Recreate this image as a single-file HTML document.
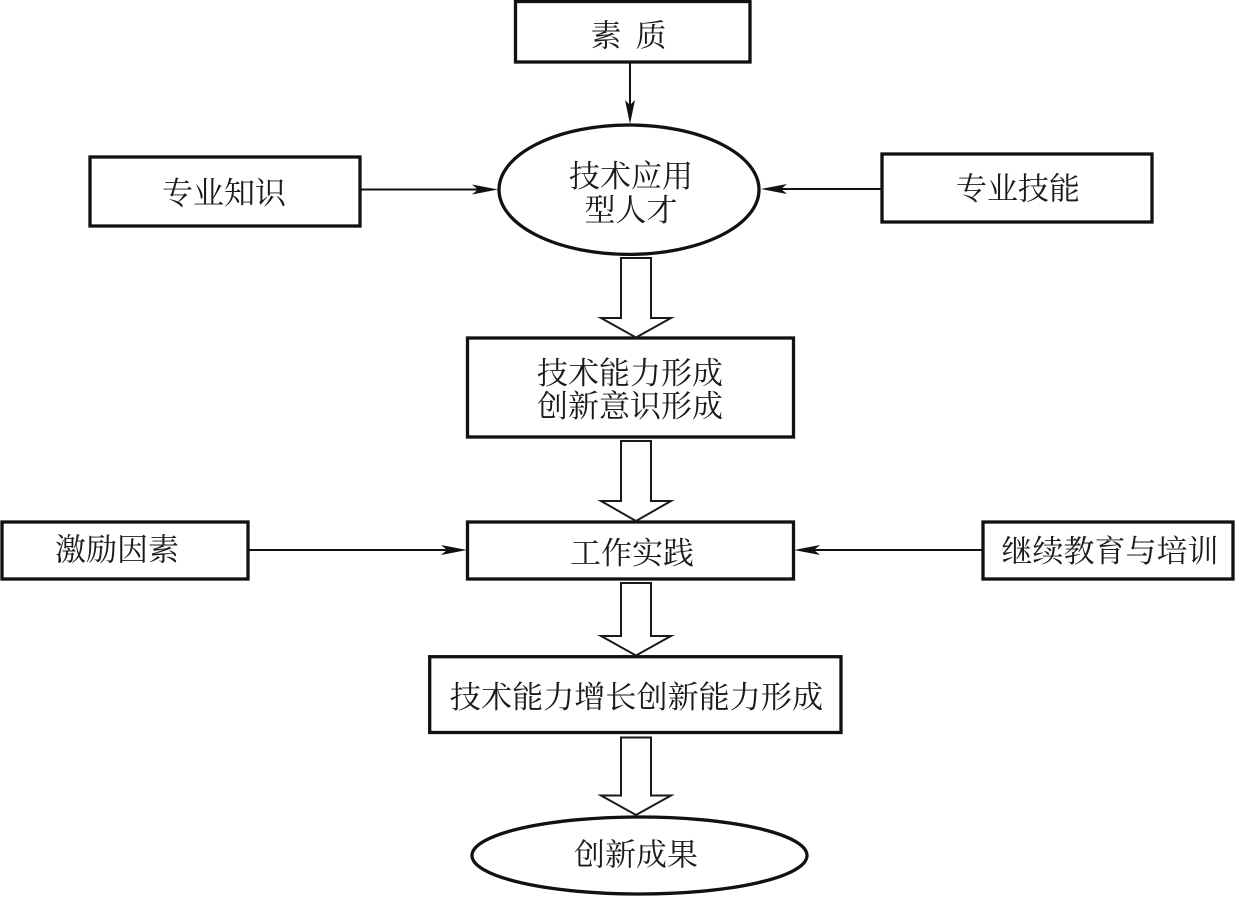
<!DOCTYPE html>
<html lang="zh">
<head>
<meta charset="utf-8">
<style>
html,body{margin:0;padding:0;background:#fff;}
svg{display:block;}
text{font-family:"Liberation Serif","Noto Serif CJK SC",serif;font-size:31px;fill:#1a1a1a;text-anchor:middle;}
.b{fill:#fff;stroke:#111;stroke-width:3.3;}
.t{fill:none;stroke:#111;stroke-width:2;}
.a{fill:#fff;stroke:#1a1a1a;stroke-width:2;}
.h{fill:#111;stroke:none;}
</style>
</head>
<body>
<svg width="1235" height="897" viewBox="0 0 1235 897" xmlns="http://www.w3.org/2000/svg">
<rect class="b" x="515.5" y="1.5" width="234.5" height="60.5"/>
<rect class="b" x="90" y="157" width="270" height="69"/>
<rect class="b" x="882" y="154" width="270" height="68"/>
<ellipse class="b" cx="629" cy="189.7" rx="130" ry="64.7"/>
<rect class="b" x="467.5" y="338" width="326" height="99"/>
<rect class="b" x="467.5" y="522" width="326" height="57"/>
<rect class="b" x="2" y="522" width="246" height="57"/>
<rect class="b" x="983" y="522" width="250" height="57"/>
<rect class="b" x="429.7" y="656.7" width="411.3" height="75.8"/>
<ellipse class="b" cx="639.5" cy="855.5" rx="167.5" ry="38.5"/>

<line class="t" x1="630" y1="62" x2="630" y2="110"/>
<polygon class="h" points="630,124 625,100 630,105 635,100"/>
<line class="t" x1="360" y1="189.5" x2="485" y2="189.5"/>
<polygon class="h" points="498,189.5 472,184.5 478,189.5 472,194.5"/>
<line class="t" x1="882" y1="189" x2="775" y2="189"/>
<polygon class="h" points="761,189 787,184 781,189 787,194"/>
<line class="t" x1="248" y1="550" x2="455" y2="550"/>
<polygon class="h" points="467,550 441,545 447,550 441,555"/>
<line class="t" x1="983" y1="550" x2="808" y2="550"/>
<polygon class="h" points="794,550 820,545 814,550 820,555"/>

<polygon class="a" points="621,258 651,258 651,318 671,318 636,337.5 601,318 621,318"/>
<polygon class="a" points="621,441 651,441 651,501 671,501 636,521 601,501 621,501"/>
<polygon class="a" points="621,583 651,583 651,636 671,636 636,655.5 601,636 621,636"/>
<polygon class="a" points="621,737.5 651,737.5 651,795.5 671,795.5 636,815 601,795.5 621,795.5"/>

<text x="628.5" y="46.5" textLength="76" lengthAdjust="spacing" xml:space="preserve">素 质</text>
<text x="224" y="204">专业知识</text>
<text x="1018" y="199.5">专业技能</text>
<text x="631" y="187">技术应用</text>
<text x="631" y="221">型人才</text>
<text x="630" y="384">技术能力形成</text>
<text x="630" y="417">创新意识形成</text>
<text x="632" y="564">工作实践</text>
<text x="117" y="560.5">激励因素</text>
<text x="1110" y="562">继续教育与培训</text>
<text x="636.5" y="708" style="font-size:31.1px">技术能力增长创新能力形成</text>
<text x="636" y="865.5">创新成果</text>
</svg>
</body>
</html>
